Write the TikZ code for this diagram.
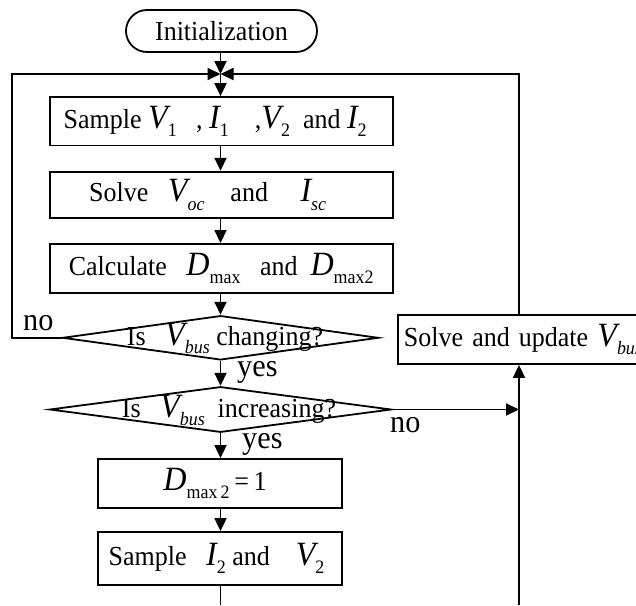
\documentclass[tikz,border=0pt]{standalone}
\usepackage{fontspec}
\setmainfont{Liberation Serif}[FakeStretch=0.945]
\usetikzlibrary{arrows.meta,shapes.geometric}
% italic variable letters, set larger than the running text
\newcommand{\bigit}[1]{{\fontsize{34}{36}\selectfont\itshape #1}}
% lowered subscripts
\newcommand{\lowsub}[1]{\raisebox{-0.3em}{\fontsize{19}{20}\selectfont #1}}
\newcommand{\itsub}[1]{\raisebox{-0.3em}{\fontsize{19}{20}\selectfont\itshape #1}}
% trailing space that survives the node's final \unskip
\newcommand{\tailgap}[1]{\hspace{#1}\mbox{}}
\tikzset{
  line/.style={line width=1.8pt},
  flow/.style={line, -{Triangle[length=13pt,width=12pt]}},
  proc/.style={draw, line width=1.8pt, rectangle, inner sep=0pt},
  term/.style={draw, line width=1.8pt, rectangle, rounded corners=21pt, inner sep=0pt},
  decide/.style={draw, line width=1.8pt, diamond, inner sep=0pt},
  lbl/.style={inner sep=0pt, anchor=base west, font=\fontsize{32}{34}\selectfont},
}
\begin{document}
\begin{tikzpicture}[x=1pt,y=-1pt, font=\fontsize{27.5}{30}\selectfont]
\useasboundingbox (0,0) rectangle (636,605);
\clip (0,0) rectangle (636,605);

% main column
\node[term, minimum width=191pt, minimum height=42pt] (init) at (221.5,31) {Initialization};
\coordinate (merge) at (220.5,74);
\node[proc, minimum width=343pt, minimum height=48.5pt] (s1) at (221.2,121.3)
  {Sample \bigit{V}\lowsub{1}\ \ \ , \bigit{I}\lowsub{1}\ \ \ \ ,\bigit{V}\lowsub{2}\ \ and \bigit{I}\lowsub{2}\tailgap{12pt}};
\node[proc, minimum width=343pt, minimum height=46.6pt] (s2) at (221.2,195)
  {Solve\ \ \ \bigit{V}\itsub{oc}\ \ \ \ and\ \ \ \ \ \bigit{I}\itsub{sc}\tailgap{27pt}};
\node[proc, minimum width=343pt, minimum height=48.7pt] (s3) at (221.2,268.3)
  {Calculate\ \ \ \bigit{D}\lowsub{max}\ \ \ and\ \ \bigit{D}\lowsub{max2}};

\node[decide, minimum width=316pt, minimum height=44.3pt] (d1) at (220.5,337.8) {};
\node[inner sep=0pt, anchor=base] (d1t) at (225,345) {Is\ \ \ \bigit{V}\itsub{bus} changing?};

\node[decide, minimum width=341.6pt, minimum height=45.6pt] (d2) at (220.5,409.5) {};
\node[inner sep=0pt, anchor=base] (d2t) at (229,417) {Is\ \ \ \bigit{V}\itsub{bus}\ \ increasing?};

\node[proc, minimum width=244pt, minimum height=49pt] (s4) at (220,483.5)
  {\bigit{D}\lowsub{max\,2}\,=\,1\tailgap{10pt}};
\node[proc, minimum width=244pt, minimum height=53pt] (s5) at (220,558.5)
  {Sample\ \ \ \bigit{I}\lowsub{2} and\ \ \ \ \bigit{V}\lowsub{2}\tailgap{7pt}};

% right branch
\node[draw, line width=1.8pt, anchor=west, minimum height=49pt, minimum width=300pt,
      inner xsep=6pt, inner ysep=0pt, text width=288pt, align=left]
  (upd) at (397,339.5) {Solve and update\ \bigit{V}\itsub{bus}};

% free ends at the picture's lower edge
\coordinate (bot) at (220.5,605);
\coordinate (botr) at (519,605);

% connectors
\draw[flow] (init.south -| merge) -- (merge);
\draw[flow] (merge) -- (merge |- s1.north);
\draw[flow] (s1.south -| merge) -- (s2.north -| merge);
\draw[flow] (s2.south -| merge) -- (s3.north -| merge);
\draw[flow] (s3.south -| merge) -- (d1.north -| merge);
\draw[flow] (d1.south -| merge) -- (d2.north -| merge);
\draw[flow] (d2.south -| merge) -- (s4.north -| merge);
\draw[flow] (s4.south -| merge) -- (s5.north -| merge);
\draw[line] (s5.south -| merge) -- (bot);

% loop back when the bus voltage is not changing
\draw[flow] (d1.west) -- (12,337.8) -- (12,74) -- (merge);
% loop back from the update block
\draw[flow] (upd.north -| botr) -- (519,74) -- (merge);
% not increasing: go to the update block
\draw[flow] (d2.east) -- (d2.east -| botr);
\draw[flow] (botr) -- (upd.south -| botr);

% branch labels
\node[lbl] (no1) at (23,330) {no};
\node[lbl] (yes1) at (237,376) {yes};
\node[lbl] (no2) at (390,432) {no};
\node[lbl] (yes2) at (242,448) {yes};
\end{tikzpicture}
\end{document}
